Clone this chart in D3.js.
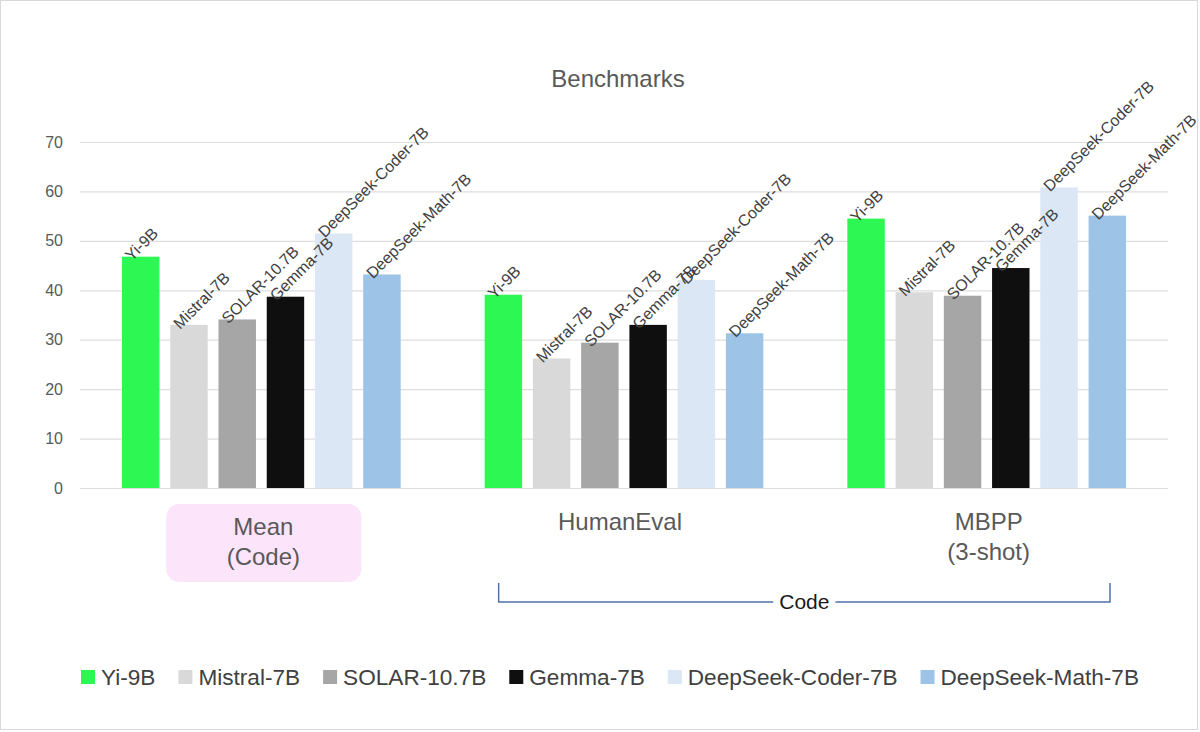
<!DOCTYPE html>
<html>
<head>
<meta charset="utf-8">
<script src="https://cdn.jsdelivr.net/npm/d3@7/dist/d3.min.js"></script>
<style>
  html, body { margin: 0; padding: 0; background: #fff; }
  svg { display: block; font-family: "Liberation Sans", Arial, sans-serif; }
</style>
</head>
<body>
<svg id="chart" width="1200" height="732"></svg>
<script>
// ---- data ----
const models = ["Yi-9B", "Mistral-7B", "SOLAR-10.7B", "Gemma-7B", "DeepSeek-Coder-7B", "DeepSeek-Math-7B"];
const benchmarks = ["Mean (Code)", "HumanEval", "MBPP (3-shot)"];
const benchmarkLines = [["Mean", "(Code)"], ["HumanEval"], ["MBPP", "(3-shot)"]];
const meanCode  = [46.8, 33.0, 34.1, 38.7, 51.5, 43.2];
const humanEval = [39.1, 26.2, 29.4, 33.0, 42.1, 31.3];
const mbpp      = [54.5, 39.6, 38.9, 44.5, 60.8, 55.1];
const yTicks = [0, 10, 20, 30, 40, 50, 60, 70];
const colors = ["#2cf753", "#d9d9d9", "#a6a6a6", "#0f0f0f", "#dce7f5", "#9dc3e6"];
const title = "Benchmarks";
const bracketLabel = "Code";

const seriesByBenchmark = [meanCode, humanEval, mbpp];

// ---- layout ----
const svg = d3.select("#chart");
const W = 1200, H = 732;
const plot = { left: 80, right: 1168, top: 142, bottom: 488 };

svg.append("rect").attr("x", 0.5).attr("y", 0.5).attr("width", W - 3).attr("height", H - 3)
  .attr("fill", "#fff").attr("stroke", "#d9d9d9");

const x0 = d3.scaleBand().domain(benchmarks).range([plot.left, plot.right]).padding(0);
const x1 = d3.scaleBand().domain(models).range([42, x0.bandwidth() - 42]).paddingInner(0.224).paddingOuter(0);
const y = d3.scaleLinear().domain([0, 70]).range([plot.bottom, plot.top]);

// title
svg.append("text").attr("x", 618).attr("y", 87).attr("text-anchor", "middle")
  .attr("font-size", 24).attr("fill", "#595959").text(title);

// gridlines + y axis
const yAxis = d3.axisLeft(y).tickValues(yTicks).tickSize(-(plot.right - plot.left)).tickPadding(17);
const gy = svg.append("g").attr("transform", `translate(${plot.left},0)`).call(yAxis);
gy.select(".domain").remove();
gy.selectAll(".tick line").attr("stroke", "#dedede").attr("stroke-width", 1.2);
gy.selectAll(".tick text").attr("font-size", 16).attr("fill", "#595959")
  .attr("font-family", "Liberation Sans, Arial, sans-serif");

// pink highlight box behind "Mean (Code)"
const c0 = x0(benchmarks[0]) + x0.bandwidth() / 2;
svg.append("rect").attr("x", c0 - 95).attr("y", 504).attr("width", 195).attr("height", 78)
  .attr("rx", 13).attr("fill", "#fce5fb");

// bars
const groups = svg.append("g").selectAll("g").data(benchmarks).join("g")
  .attr("transform", d => `translate(${x0(d)},0)`);

groups.each(function(b, bi) {
  const g = d3.select(this);
  const vals = seriesByBenchmark[bi];
  const data = models.map((m, i) => ({ model: m, value: vals[i], color: colors[i] }));
  g.selectAll("rect").data(data).join("rect")
    .attr("x", d => x1(d.model))
    .attr("width", x1.bandwidth())
    .attr("y", d => y(d.value))
    .attr("height", d => y(0) - y(d.value))
    .attr("fill", d => d.color);
  g.selectAll("text.lbl").data(data).join("text").attr("class", "lbl")
    .attr("transform", d => `translate(${x1(d.model) + x1.bandwidth() / 2 - 9},${y(d.value) + 5}) rotate(-45)`)
    .attr("font-size", 16).attr("fill", "#404040")
    .text(d => d.model);
});

// category labels
benchmarkLines.forEach((lines, i) => {
  const cx = x0(benchmarks[i]) + x0.bandwidth() / 2 + (i === 0 ? 2 : (i === 1 ? -4 : 2));
  const t = svg.append("text").attr("text-anchor", "middle").attr("font-size", 24).attr("fill", "#595959");
  const base = lines.length === 1 ? 530 : (i === 0 ? 535 : 530);
  lines.forEach((ln, k) => {
    t.append("tspan").attr("x", cx).attr("y", base + k * 30).text(ln);
  });
});

// bracket "Code"
const bl = x0(benchmarks[1]) + 56;
const br = x0(benchmarks[2]) + x0.bandwidth() - 58;
const bm = (bl + br) / 2;
const codeText = svg.append("text").attr("x", bm).attr("y", 609).attr("text-anchor", "middle")
  .attr("font-size", 21).attr("fill", "#1a1a1a").text(bracketLabel);
const tw = codeText.node().getComputedTextLength();
svg.append("path")
  .attr("d", `M${bl},583 V602 H${bm - tw / 2 - 6} M${bm + tw / 2 + 6},602 H${br} V583`)
  .attr("fill", "none").attr("stroke", "#4e72a8").attr("stroke-width", 1.5);

// legend
const legend = svg.append("g");
let lx = 81;
models.forEach((m, i) => {
  legend.append("rect").attr("x", lx).attr("y", 670).attr("width", 14).attr("height", 14).attr("fill", colors[i]);
  const t = legend.append("text").attr("x", lx + 20).attr("y", 685).attr("font-size", 22.6).attr("fill", "#404040").text(m);
  lx += 20 + t.node().getComputedTextLength() + 23;
});
</script>
</body>
</html>
